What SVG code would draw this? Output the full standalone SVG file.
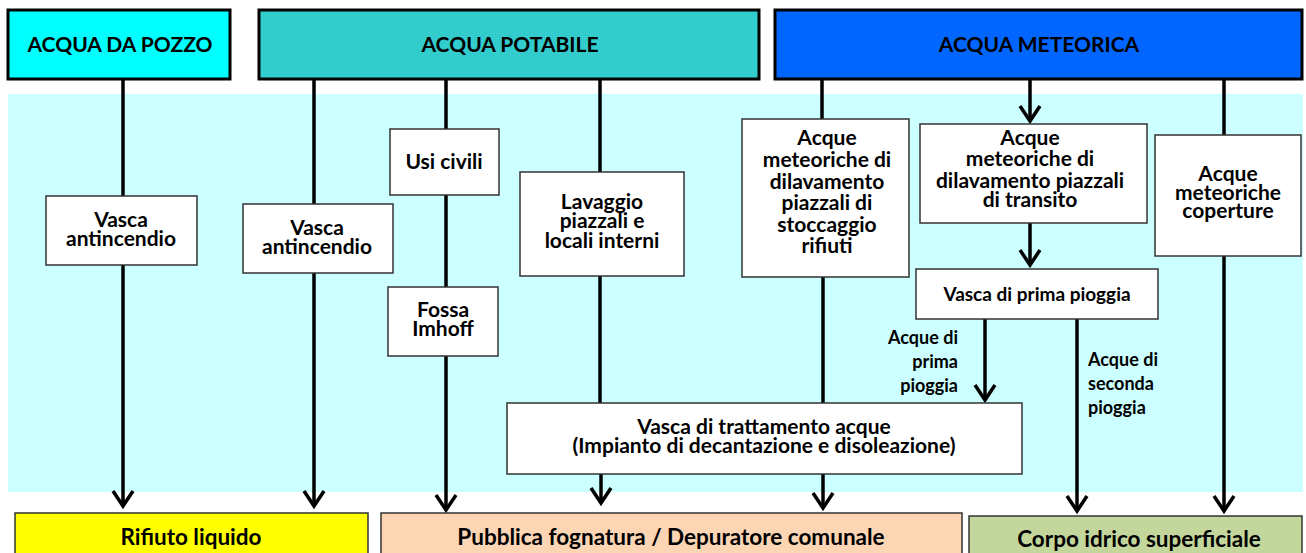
<svg xmlns="http://www.w3.org/2000/svg" width="1306" height="553" viewBox="0 0 1306 553">
<style>
text{font-family:Lato,"Liberation Sans",sans-serif;font-weight:bold;fill:#000;text-anchor:middle}
.top{stroke:#000;stroke-width:3}
.box{fill:#fff;stroke:#333;stroke-width:1.5}
.bot{stroke:#333;stroke-width:1.5}
.t22{font-size:22.5px}
.t21{font-size:21px}
.t19{font-size:19px}
.t18{font-size:18px}
.wire{stroke:#000;stroke-width:3.5;fill:none}
.arr{marker-end:url(#arrow)}
.l{text-anchor:start}
.r{text-anchor:end}
</style>
<defs>
<marker id="arrow" markerUnits="userSpaceOnUse" markerWidth="30" markerHeight="30" viewBox="-20 -15 25 30" refX="0" refY="0" orient="auto" overflow="visible">
<path d="M-15,-10 L0,0 L-15,10" fill="none" stroke="#000" stroke-width="3.5"/>
</marker>
</defs>
<rect width="1306" height="553" fill="#fff"/>
<rect id="area" x="8" y="94" width="1295" height="398" fill="#CCFFFF"/>

<g id="connectors">
<path class="wire" d="M123,79 V196"/>
<path class="wire arr" d="M123,265 V506"/>
<path class="wire" d="M314,79 V204"/>
<path class="wire arr" d="M314,273 V506"/>
<path class="wire" d="M446,79 V129"/>
<path class="wire" d="M446,195 V287"/>
<path class="wire arr" d="M446,356 V510"/>
<path class="wire" d="M600,79 V172"/>
<path class="wire" d="M600,276 V403"/>
<path class="wire arr" d="M601,474 V503"/>
<path class="wire" d="M822,79 V119"/>
<path class="wire" d="M823,277 V403"/>
<path class="wire arr" d="M823,474 V508"/>
<path class="wire arr" d="M1030,79 V121"/>
<path class="wire arr" d="M1030,223 V265"/>
<path class="wire arr" d="M985,319 V400"/>
<path class="wire arr" d="M1077,319 V511"/>
<path class="wire" d="M1224,79 V135"/>
<path class="wire arr" d="M1224,256 V511"/>
</g>

<g id="acqua-pozzo"><rect class="top" x="8" y="10" width="222" height="69" fill="#00FFFF"/><text class="t21" x="120" y="52">ACQUA DA POZZO</text></g>
<g id="acqua-potabile"><rect class="top" x="259" y="10" width="500" height="69" fill="#33CCCC"/><text class="t21" x="510" y="52">ACQUA POTABILE</text></g>
<g id="acqua-meteorica"><rect class="top" x="775" y="10" width="527" height="69" fill="#0066FF"/><text class="t21" x="1039" y="52">ACQUA METEORICA</text></g>

<g id="vasca1"><rect class="box" x="46" y="196" width="151" height="69"/><text class="t21" x="121" y="227">Vasca</text><text class="t21" x="121" y="246">antincendio</text></g>
<g id="vasca2"><rect class="box" x="243" y="204" width="150" height="69"/><text class="t21" x="317" y="235">Vasca</text><text class="t21" x="317" y="254">antincendio</text></g>
<g id="usi-civili"><rect class="box" x="390" y="129" width="109" height="66"/><text class="t21" x="444" y="169">Usi civili</text></g>
<g id="fossa"><rect class="box" x="388" y="287" width="110" height="69"/><text class="t21" x="443" y="317">Fossa</text><text class="t21" x="443" y="336">Imhoff</text></g>
<g id="lavaggio"><rect class="box" x="520" y="172" width="164" height="104"/><text class="t21" x="602" y="209">Lavaggio</text><text class="t21" x="602" y="228">piazzali e</text><text class="t21" x="602" y="248">locali interni</text></g>
<g id="stoccaggio"><rect class="box" x="742" y="119" width="167" height="158"/>
<text class="t21" x="827" y="145">Acque</text><text class="t21" x="827" y="167">meteoriche di</text><text class="t21" x="827" y="189">dilavamento</text><text class="t21" x="827" y="210">piazzali di</text><text class="t21" x="827" y="232">stoccaggio</text><text class="t21" x="827" y="253">rifiuti</text></g>
<g id="transito"><rect class="box" x="920" y="124" width="227" height="99"/>
<text class="t21" x="1030" y="145">Acque</text><text class="t21" x="1030" y="166">meteoriche di</text><text class="t21" x="1030" y="188">dilavamento  piazzali</text><text class="t21" x="1030" y="207">di transito</text></g>
<g id="coperture"><rect class="box" x="1155" y="135" width="146" height="121"/>
<text class="t21" x="1228" y="181">Acque</text><text class="t21" x="1228" y="200">meteoriche</text><text class="t21" x="1228" y="218">coperture</text></g>
<g id="prima-pioggia"><rect class="box" x="916" y="269" width="242" height="50"/><text class="t19" x="1037" y="301">Vasca di prima pioggia</text></g>
<g id="trattamento"><rect class="box" x="507" y="403" width="515" height="71"/><text class="t21" x="764" y="434">Vasca di trattamento acque</text><text class="t21" x="764" y="453">(Impianto di decantazione e disoleazione)</text></g>

<g id="label-prima"><text class="t18 r" x="958" y="344">Acque di</text><text class="t18 r" x="958" y="368">prima</text><text class="t18 r" x="958" y="392">pioggia</text></g>
<g id="label-seconda"><text class="t18 l" x="1088" y="366">Acque di</text><text class="t18 l" x="1088" y="390">seconda</text><text class="t18 l" x="1088" y="414">pioggia</text></g>

<g id="rifiuto"><rect class="bot" x="15" y="513" width="353" height="45" fill="#FFFF00"/><text class="t22" x="191" y="545">Rifiuto liquido</text></g>
<g id="fognatura"><rect class="bot" x="381" y="513" width="581" height="45" fill="#FCD5B5"/><text class="t22" x="671" y="545">Pubblica fognatura / Depuratore comunale</text></g>
<g id="corpo"><rect class="bot" x="969" y="516" width="333" height="45" fill="#C3D69B"/><text class="t22" x="1139" y="547">Corpo idrico superficiale</text></g>
</svg>
